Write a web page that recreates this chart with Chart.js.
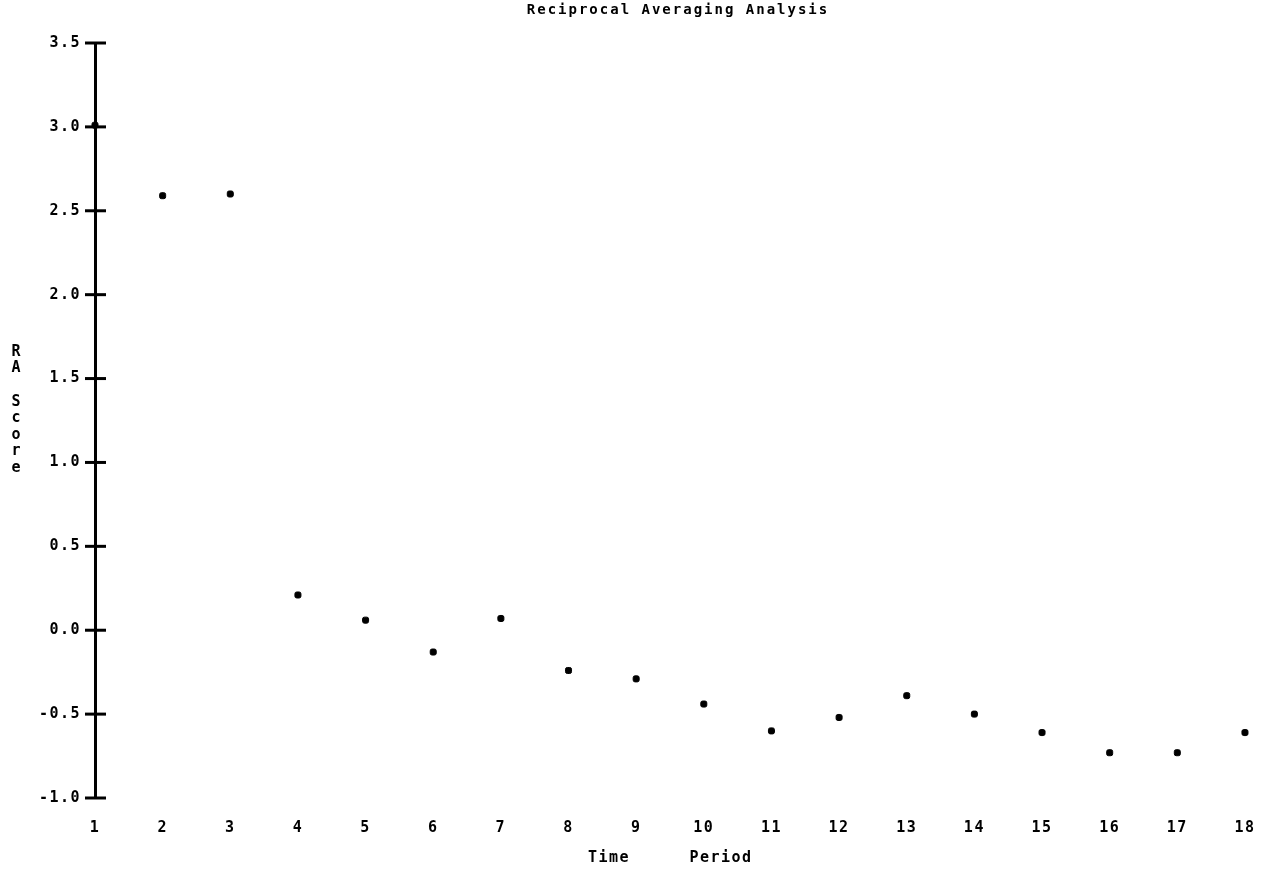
<!DOCTYPE html>
<html>
<head>
<meta charset="utf-8">
<title>Reciprocal Averaging Analysis</title>
<script src="https://cdn.jsdelivr.net/npm/chart.js@4.4.1/dist/chart.umd.min.js"></script>
<style>
  html, body { margin: 0; padding: 0; background: #fff; }
  #wrap { width: 1275px; height: 881px; position: relative; }
</style>
</head>
<body>
<div id="wrap"><canvas id="myChart"></canvas></div>
<script>
// periods and RA scores
const periods = [1, 2, 3, 4, 5, 6, 7, 8, 9, 10, 11, 12, 13, 14, 15, 16, 17, 18];
const raScores = [3.01, 2.59, 2.60, 0.21, 0.06, -0.13, 0.07, -0.24, -0.29, -0.44, -0.60, -0.52, -0.39, -0.50, -0.61, -0.73, -0.73, -0.61];
const yTicks = [-1.0, -0.5, 0.0, 0.5, 1.0, 1.5, 2.0, 2.5, 3.0, 3.5];
const yTitleChars = ['R', 'A', ' ', 'S', 'c', 'o', 'r', 'e'];
const titleText = 'Reciprocal Averaging Analysis';
const xTitleWords = ['Time', 'Period'];

const fontFamily = '"DejaVu Sans Mono", "Liberation Mono", monospace';

// wide plotter lettering for everything, ticks included
const wideLetters = {
  id: 'wideLetters',
  beforeDraw(chart) {
    chart.ctx.letterSpacing = '1.5px';
  }
};

// extra labels + crossing tick marks, the old plotter style
const plotterDecor = {
  id: 'plotterDecor',
  afterDraw(chart) {
    const ctx = chart.ctx;
    const y = chart.scales.y;
    const area = chart.chartArea;
    ctx.save();
    ctx.strokeStyle = '#000';
    ctx.lineWidth = 3;
    yTicks.forEach(v => {
      const py = y.getPixelForValue(v);
      ctx.beginPath();
      ctx.moveTo(area.left - 10, py);
      ctx.lineTo(area.left + 11, py);
      ctx.stroke();
    });

    ctx.fillStyle = '#000';
    ctx.textAlign = 'center';
    ctx.textBaseline = 'middle';
    ctx.font = 'bold 14px ' + fontFamily;
    ctx.letterSpacing = '2px';
    ctx.fillText(titleText, 678, 10);

    ctx.font = 'bold 15px ' + fontFamily;
    ctx.letterSpacing = '0px';
    yTitleChars.forEach((c, i) => {
      ctx.fillText(c, 16, 352 + i * 16.6);
    });

    ctx.letterSpacing = '1.5px';
    ctx.fillText(xTitleWords[0], 609, 858);
    ctx.fillText(xTitleWords[1], 721, 858);
    ctx.restore();
  }
};

const ctx = document.getElementById('myChart').getContext('2d');
window.myChart = new Chart(ctx, {
  type: 'scatter',
  data: {
    datasets: [{
      label: 'RA Score',
      data: periods.map((p, i) => ({ x: p, y: raScores[i] })),
      backgroundColor: '#000',
      borderColor: '#000',
      pointStyle: 'rectRounded',
      pointRadius: 3.5,
      showLine: false,
      clip: false
    }]
  },
  options: {
    responsive: true,
    maintainAspectRatio: false,
    animation: false,
    layout: { padding: { top: 43, right: 30, left: 0, bottom: 0 } },
    plugins: {
      legend: { display: false },
      title: { display: false },
      tooltip: { enabled: false }
    },
    scales: {
      x: {
        type: 'linear',
        min: 1,
        max: 18,
        afterFit: s => { s.height = 83; },
        grid: { display: false, drawTicks: false },
        border: { display: false },
        ticks: {
          stepSize: 1,
          padding: 21,
          color: '#000',
          font: { family: fontFamily, size: 15, weight: 'bold' },
          maxRotation: 0
        }
      },
      y: {
        min: -1,
        max: 3.5,
        afterFit: s => { s.width = 95; },
        grid: { display: false, drawTicks: false },
        border: { display: true, color: '#000', width: 3 },
        afterBuildTicks: s => { s.ticks = yTicks.map(v => ({ value: v })); },
        ticks: {
          padding: 14,
          color: '#000',
          font: { family: fontFamily, size: 15, weight: 'bold' },
          callback: v => v.toFixed(1)
        }
      }
    }
  },
  plugins: [wideLetters, plotterDecor]
});
</script>
</body>
</html>
